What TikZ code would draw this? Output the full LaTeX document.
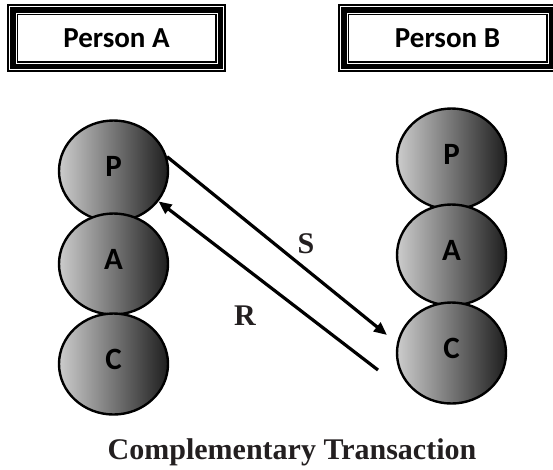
\documentclass[tikz,border=0pt]{standalone}
\usepackage{fontspec}
\setmainfont{Liberation Serif}
\newfontfamily\calib{Carlito}
\usetikzlibrary{shapes.geometric,arrows.meta}
\definecolor{txt}{HTML}{231F20}
\tikzset{
  ego/.style={ellipse, draw=black, line width=2.4pt, minimum width=109pt, minimum height=101pt,
    inner sep=0pt, left color=black!20, middle color=black!42, right color=black!88,
    font=\calib\bfseries\fontsize{31}{33}\selectfont, text height=20pt, text depth=9pt},
  arr/.style={line width=3.2pt, -{Triangle[length=13pt,width=11pt]}},
  lab/.style={font=\bfseries\fontsize{30}{32}\selectfont, text=txt},
  boxtext/.style={font=\calib\bfseries\fontsize{29}{31}\selectfont},
}
\begin{document}
\begin{tikzpicture}[x=1pt,y=-1pt]
\useasboundingbox (0,0) rectangle (553,469);
\clip (0,0) rectangle (553,469);
% Person boxes (framed)
\foreach \x/\n/\t in {7/ba/Person A, 338/bb/Person B}{
  \fill[black] (\x,4) rectangle ++(219,68);
  \draw[white, line width=0.7pt] (\x+2.5,6.5) rectangle ++(214,63);
  \draw[white, line width=0.7pt] (\x+9,13) rectangle ++(201,50);
  \fill[white] (\x+11,15) rectangle ++(197,46);
  \node[boxtext] (\n) at (\x+109.5,38) {\t};
}
% Left ego states
\node[ego] (Pa) at (113.5,171) {P};
\node[ego] (Aa) at (113.5,264) {A};
\node[ego] (Ca) at (113.5,364) {C};
% Right ego states
\node[ego] (Pb) at (451.5,159) {P};
\node[ego] (Ab) at (451.5,255) {A};
\node[ego] (Cb) at (451.5,353) {C};
% Transactions
\coordinate (sEnd) at (387,335);
\coordinate (rStart) at (378,370);
\draw[arr] (Pa.15) -- (sEnd);
\draw[arr] (rStart) -- (Pa.-34);
\node[lab] (S) at (306,244) {S};
\node[lab] (R) at (245,316) {R};
\node[lab, anchor=base] (title) at (292,459) {Complementary Transaction};
\end{tikzpicture}
\end{document}
